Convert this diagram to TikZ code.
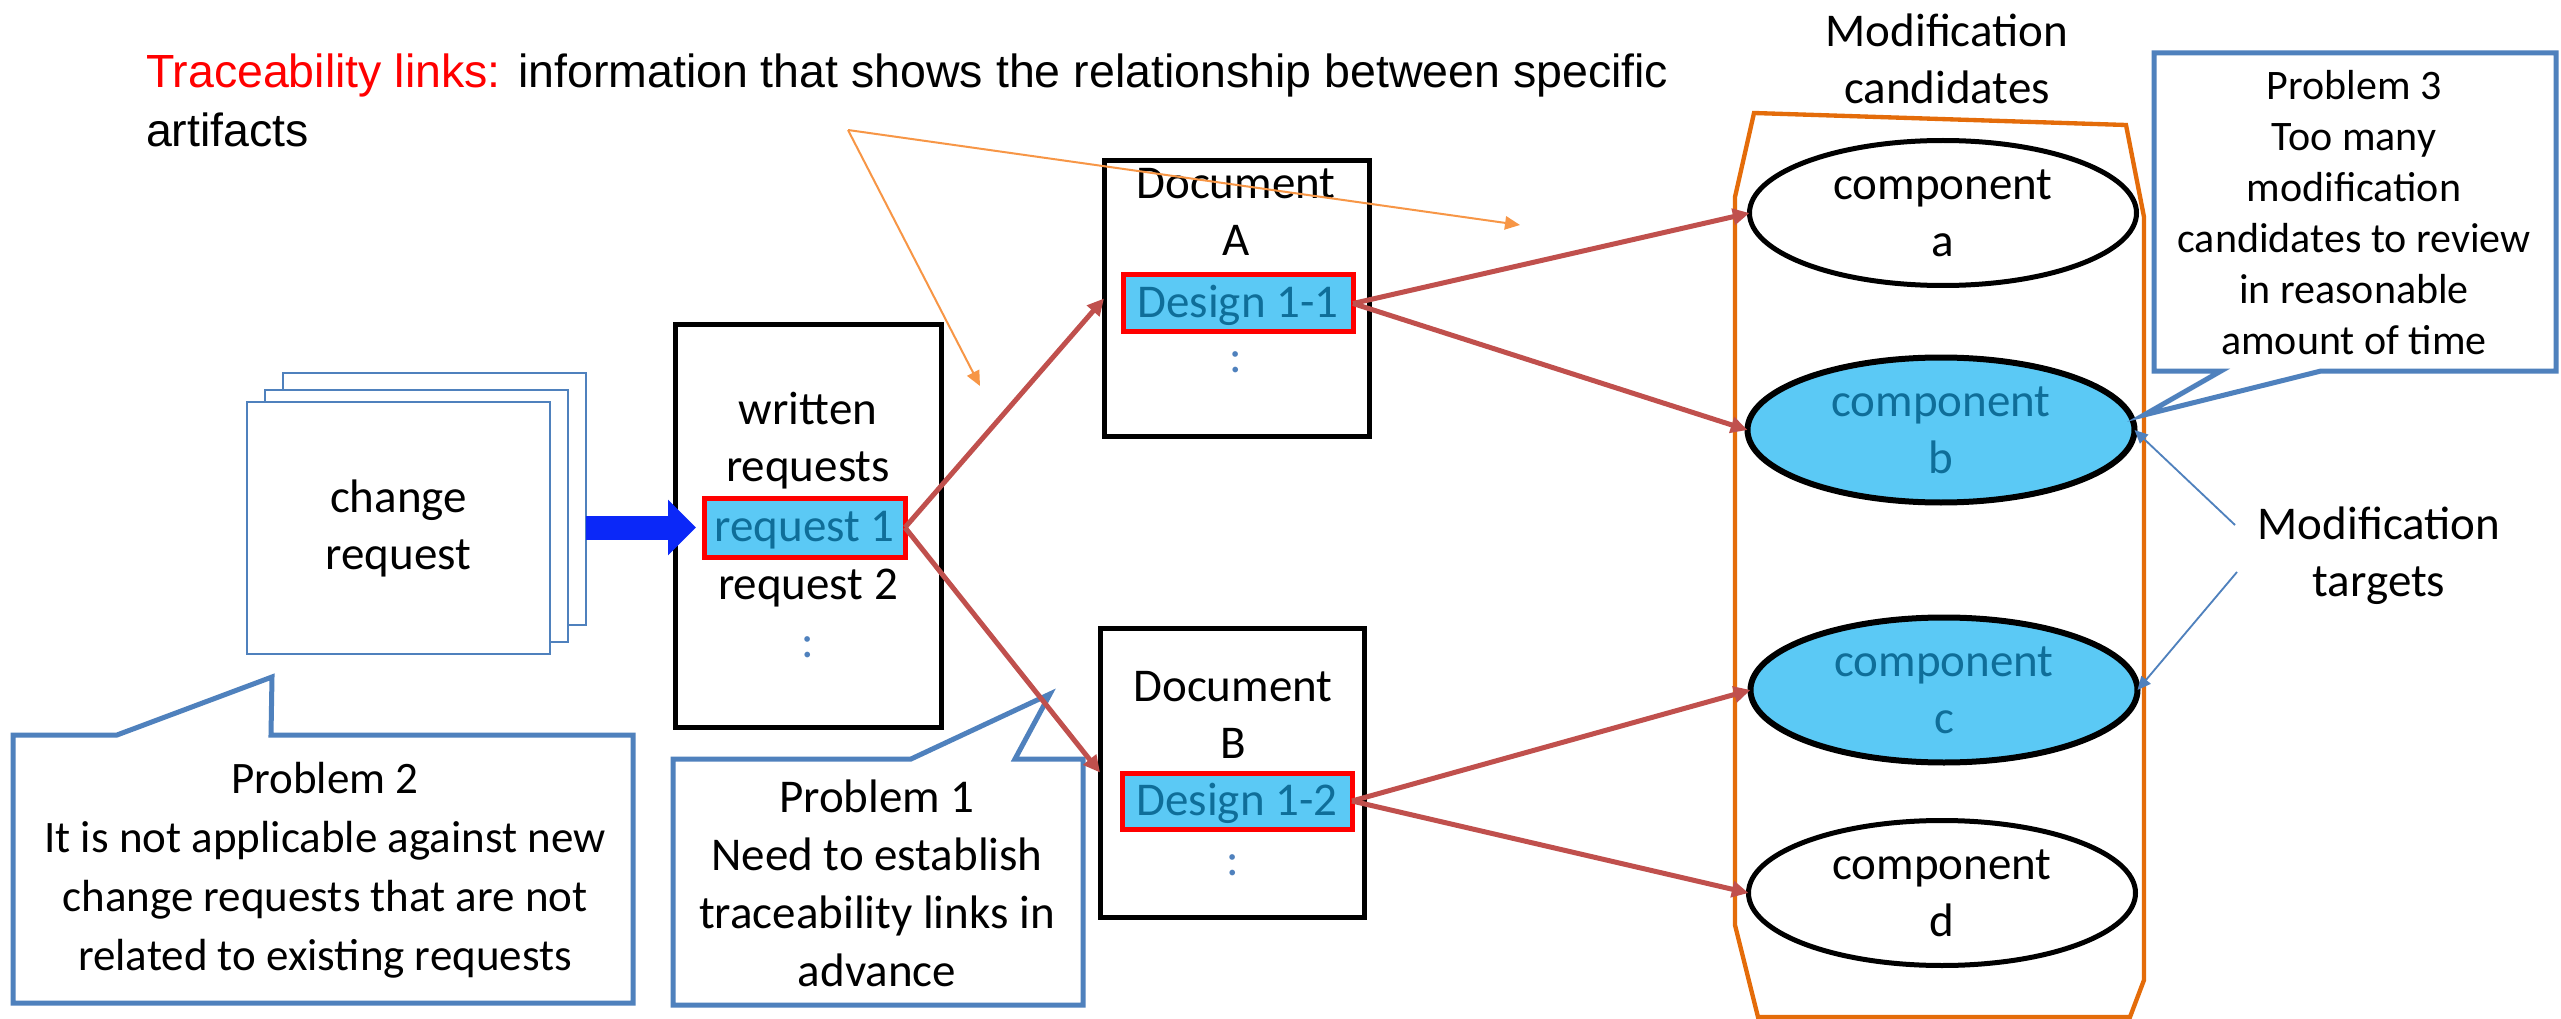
\documentclass[tikz,border=0pt]{standalone}
\usepackage{fontspec}
\setmainfont{Carlito}
\newfontfamily\arialf{Liberation Sans}
\usetikzlibrary{arrows.meta,shapes.geometric}

\definecolor{accblue}{HTML}{4F81BD}
\definecolor{linkred}{HTML}{C0504D}
\definecolor{hlfill}{HTML}{5BC9F5}
\definecolor{hltext}{HTML}{0F6E99}
\definecolor{candor}{HTML}{E46C0A}
\definecolor{tlor}{HTML}{F79646}
\definecolor{bigblue}{HTML}{0B28F8}

% one drawing unit = one pixel of the layout grid
\newcommand\pxl{*0.3pt}

\begin{document}
\begin{tikzpicture}[x=0.3pt,y=-0.3pt,
  every node/.style={inner sep=0pt,outer sep=0pt},
  f47/.style={font=\fontsize{14.1}{17.1}\selectfont},
  oneline/.style={f47,text height=10.2pt,text depth=1.8pt},
  multi/.style={f47,align=center},
  stackpage/.style={draw=accblue,line width=0.6pt,fill=white,minimum width=303\pxl,minimum height=252\pxl},
  docbox/.style={draw=black,line width=1.5pt,fill=white},
  hlbox/.style={oneline,draw=red,line width=1.5pt,fill=hlfill,text=hltext,minimum width=230\pxl,minimum height=57\pxl},
  dots/.style={oneline,text=accblue},
  comp/.style={ellipse,draw=black,line width=1.5pt,fill=white,minimum width=387\pxl,minimum height=145\pxl,multi},
  target/.style={comp,fill=hlfill,text=hltext,line width=1.8pt},
  callout/.style={draw=accblue,line width=1.5pt,fill=white,line join=miter},
  link/.style={draw=linkred,line width=1.5pt,-{Triangle[length=5pt,width=4.8pt]}},
  hint/.style={draw=tlor,line width=0.6pt,-{Triangle[length=4.5pt,width=4pt]}},
  pointer/.style={draw=accblue,line width=0.55pt,-{Triangle[length=4pt,width=3.6pt]}},
]
% canvas
\fill[white] (0,0) rectangle (2561,1019);
\useasboundingbox (0,0) rectangle (2561,1019);

% definition of traceability links
\node[anchor=base west,font=\arialf\fontsize{13.95}{17.7}\selectfont] (deftop) at (146,88)
  {\textcolor{red}{Traceability links:} information that shows the relationship between specific};
\node[anchor=base west,font=\arialf\fontsize{13.95}{17.7}\selectfont] (defbot) at (146,147) {artifacts};

% stack of change requests
\node[stackpage] (crback) at (434.5,499) {};
\node[stackpage] (crmid) at (416.5,516) {};
\node[stackpage,multi] (crfront) at (398.5,528) {change\\request};

% written requests
\node[docbox,minimum width=266\pxl,minimum height=402\pxl] (written) at (808,526) {};
\node[multi] (wrtitle) at (808,441) {written\\requests};
\node[hlbox,minimum width=201\pxl,minimum height=59\pxl] (req1) at (804.5,527.5) {request 1};
\node[oneline] (req2) at (808,585) {request 2};
\node[dots] (wrdots) at (808,643) {:};

\draw[bigblue,line width=7.2pt,shorten >=2.4pt,-{Triangle[length=8.4pt,width=16.2pt]}]
  (crback.east |- req1.west) -- (req1.west);

% documents
\node[docbox,minimum width=265\pxl,minimum height=275\pxl] (docA) at (1236.5,298.5) {};
\node[multi] (docAt) at (1236,212) {Document\\A};
\node[hlbox] (des11) at (1238,303.5) {Design 1-1};
\node[dots] (docAdots) at (1236,358) {:};

\node[docbox,minimum width=264\pxl,minimum height=289\pxl] (docB) at (1232,772.5) {};
\node[multi] (docBt) at (1233,715) {Document\\B};
\node[hlbox,minimum height=56\pxl] (des12) at (1237,801) {Design 1-2};
\node[dots] (docBdots) at (1233,861) {:};

% candidate set
\node[multi] (candt) at (1947,59) {Modification\\candidates};
\draw[candor,line width=1.3pt,line join=miter]
  (1754,113) -- (2126,125) -- (2144,217) -- (2144,980) -- (2130,1017)
  -- (1758,1017) -- (1735,925) -- (1735,197) -- cycle;

\node[comp] (compA) at (1943,213) {component\\a};
\node[target] (compB) at (1941,430) {component\\b};
\node[target] (compC) at (1944,690) {component\\c};
\node[comp] (compD) at (1942,893) {component\\d};

% problem callouts
\draw[callout] (13,735) -- (117,735) -- (272,677) -- (271,735) -- (633,735)
  -- (633,1003) -- (13,1003) -- cycle;
\node[align=center,font=\fontsize{13.5}{17.7}\selectfont] (prob2) at (325,870)
  {Problem 2\\It is not applicable against new\\change requests that are not\\related to existing requests};

\draw[callout] (673,759) -- (911,759) -- (1050,694) -- (1015,759) -- (1083,759)
  -- (1083,1005) -- (673,1005) -- cycle;
\node[align=center,font=\fontsize{14.1}{17.4}\selectfont] (prob1) at (877,883)
  {Problem 1\\Need to establish\\traceability links in\\advance};

\draw[callout] (2154,53) -- (2556,53) -- (2556,371) -- (2321,371) -- (2144,415)
  -- (2221,371) -- (2154,371) -- cycle;
\node[align=center,font=\fontsize{12.6}{15.3}\selectfont] (prob3) at (2354,213)
  {Problem 3\\Too many\\modification\\candidates to review\\in reasonable\\amount of time};

% traceability links
\draw[link] (req1.east) -- (docA.west);
\draw[link] (req1.east) -- (docB.west);
\draw[link] (des11.east) -- (compA.west);
\draw[link] (des11.east) -- (compB.west);
\draw[link] (des12.east) -- (compC.west);
\draw[link] (des12.east) -- (compD.west);

% modification targets
\node[multi] (targets) at (2379,556) {Modification\\targets};
\coordinate (tgA) at (2235,525);
\coordinate (tgB) at (2237,572);
\draw[pointer] (tgA) -- (compB.east);
\draw[pointer] (tgB) -- (compC.east);

% hints from the definition
\coordinate (hintsrc) at (848,130);
\coordinate (hintA) at (980,386);
\coordinate (hintB) at (1520,225);
\draw[hint] (hintsrc) -- (hintA);
\draw[hint] (hintsrc) -- (hintB);
\end{tikzpicture}
\end{document}
